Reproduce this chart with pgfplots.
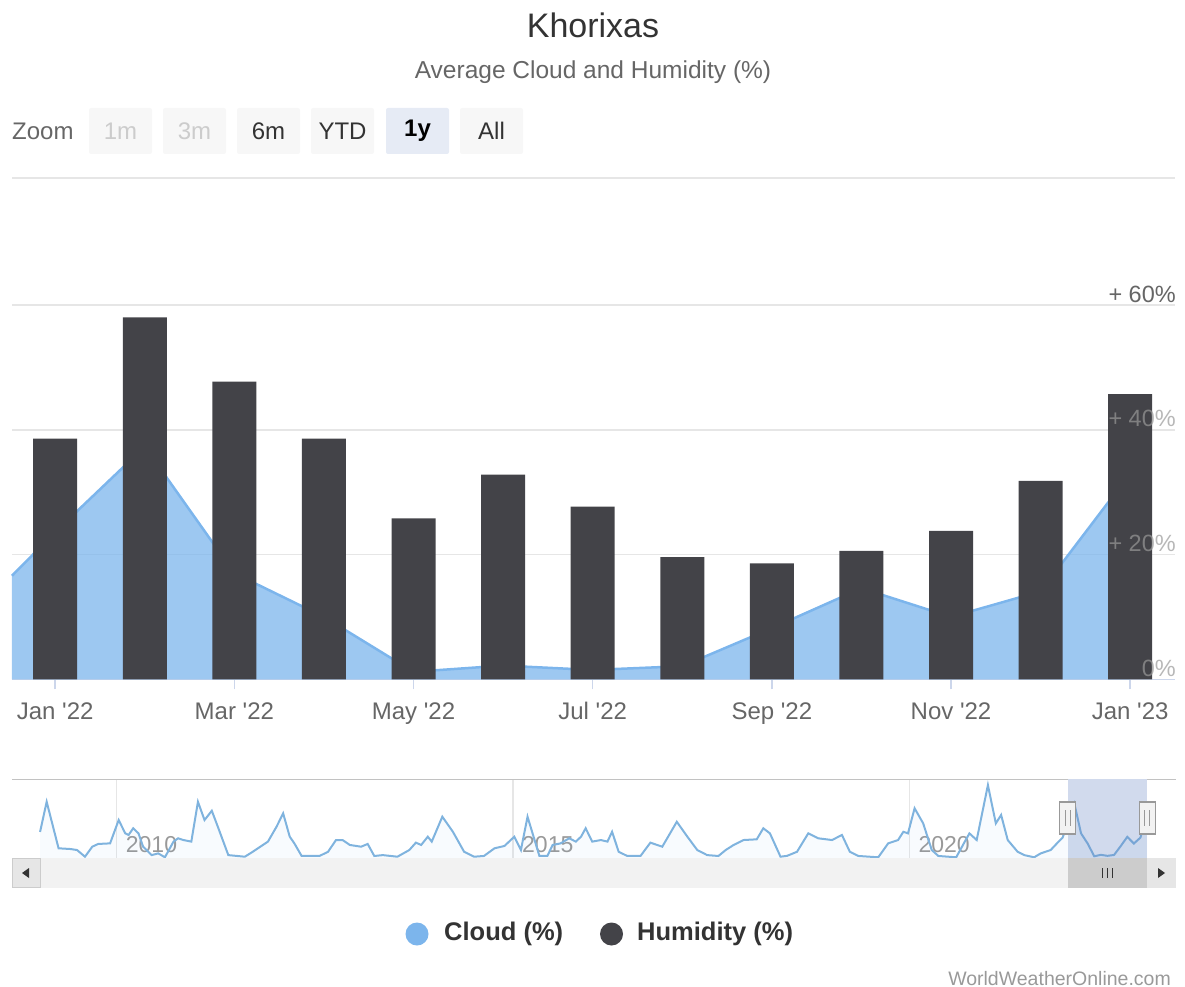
\documentclass[border=0pt]{standalone}
\usepackage{pgfplots}
\pgfplotsset{compat=1.18}
\usepackage{fontspec}
\setmainfont{Liberation Sans}
\definecolor{barcol}{HTML}{434348}
\definecolor{cloud}{HTML}{7CB5EC}
\definecolor{navline}{HTML}{7FB3DE}
\definecolor{gridc}{HTML}{E6E6E6}
\definecolor{axisc}{HTML}{CCD6EB}
\definecolor{txt}{HTML}{333333}
\definecolor{lab}{HTML}{666666}
\definecolor{light}{HTML}{999999}
\definecolor{maskc}{RGB}{102,133,194}
\definecolor{btn}{HTML}{F7F7F7}
\definecolor{btnsel}{HTML}{E6EBF5}
\definecolor{disab}{HTML}{CCCCCC}
\definecolor{sbtrack}{HTML}{F2F2F2}
\definecolor{sbbtn}{HTML}{E6E6E6}
\definecolor{sbthumb}{HTML}{CCCCCC}
\definecolor{outl}{HTML}{C2C2C2}

\begin{document}
\begin{tikzpicture}
\useasboundingbox (0pt,0pt) rectangle (1185pt,-987pt);

% ---------- header ----------
\begin{scope}[x=1pt,y=-1pt]
\node[font=\fontsize{34}{40}\selectfont, text=txt] at (593,25) {Khorixas};
\node[font=\fontsize{24.5}{29}\selectfont, text=lab] at (593,72) {Average Cloud and Humidity (\%)};
\node[anchor=west, inner sep=0pt, font=\fontsize{24}{28}\selectfont, text=lab] at (12,131) {Zoom};
\fill[btn, rounded corners=2pt] (89,108) rectangle (152,154);
\fill[btn, rounded corners=2pt] (163,108) rectangle (226,154);
\fill[btn, rounded corners=2pt] (237,108) rectangle (300,154);
\fill[btn, rounded corners=2pt] (311,108) rectangle (374,154);
\fill[btnsel, rounded corners=2pt] (386,108) rectangle (449,154);
\fill[btn, rounded corners=2pt] (460,108) rectangle (523,154);
\node[font=\fontsize{24}{28}\selectfont, text=disab] at (120.5,131) {1m};
\node[font=\fontsize{24}{28}\selectfont, text=disab] at (194.5,131) {3m};
\node[font=\fontsize{24}{28}\selectfont, text=txt] at (268.5,131) {6m};
\node[font=\fontsize{24}{28}\selectfont, text=txt] at (342.5,131) {YTD};
\node[font=\bfseries\fontsize{24}{28}\selectfont, text=black] at (417.5,131) {1y};
\node[font=\fontsize{24}{28}\selectfont, text=txt] at (491.5,131) {All};
\draw[gridc, line width=1.5pt] (12,178) -- (1175,178);
\end{scope}

% ---------- main chart ----------
\begin{axis}[
  at={(12pt,-679.3pt)}, anchor=south west,
  scale only axis, width=1163pt, height=374.3pt,
  xmin=-0.482, xmax=12.5, ymin=0, ymax=60,
  axis x line*=bottom, axis y line*=right,
  x axis line style={draw=axisc, line width=1.5pt, -},
  y axis line style={draw=none},
  xtick={0,2,4,6,8,10,12},
  xticklabels={Jan \textquotesingle22, Mar \textquotesingle22, May \textquotesingle22, Jul \textquotesingle22, Sep \textquotesingle22, Nov \textquotesingle22, Jan \textquotesingle23},
  xtick align=outside, major tick length=10pt,
  xtick style={draw=axisc, line width=1.5pt},
  xticklabel style={font=\fontsize{24}{28}\selectfont, text=lab, anchor=north, text height=18pt, text depth=5pt, yshift=-9pt},
  ytick={0,20,40}, yticklabels={},
  extra y ticks={60}, extra y tick labels={+ 60\%},
  ytick style={draw=none},
  ymajorgrids, grid style={draw=gridc, line width=1.5pt},
  yticklabel style={font=\fontsize{23.5}{28}\selectfont, text=lab, anchor=base east, inner sep=0pt, xshift=1pt, yshift=3pt},
  extra y tick style={grid=major},
  clip=false,
]
% Cloud (%)
\addplot[draw=none, fill=cloud, fill opacity=0.75] coordinates {
 (-0.482,16.6) (0,23.6) (1,37.3) (2,17.0) (3,10.0) (4,1.2) (5,2.2) (6,1.5)
 (7,2.1) (8,8.2) (9,14.6) (10,10.0) (11,14.1) (12,33.0)} \closedcycle;
\addplot[draw=cloud, line width=2.5pt] coordinates {
 (-0.482,16.6) (0,23.6) (1,37.3) (2,17.0) (3,10.0) (4,1.2) (5,2.2) (6,1.5)
 (7,2.1) (8,8.2) (9,14.6) (10,10.0) (11,14.1) (12,33.0)};
% Humidity (%)
\addplot[ybar, bar width=44pt, fill=barcol, draw=none] coordinates {
 (0,38.6) (1,58.0) (2,47.7) (3,38.6) (4,25.8) (5,32.8) (6,27.7)
 (7,19.6) (8,18.6) (9,20.6) (10,23.8) (11,31.8) (12,45.7)};
\node[anchor=base east, inner sep=0pt, font=\fontsize{23.5}{28}\selectfont, text=light, text opacity=0.7] at (rel axis cs:1,0) [xshift=1pt, yshift=3pt] {0\%};
\node[anchor=base east, inner sep=0pt, font=\fontsize{23.5}{28}\selectfont, text=light, text opacity=0.7] at (rel axis cs:1,0.33333) [xshift=1pt, yshift=3pt] {+ 20\%};
\node[anchor=base east, inner sep=0pt, font=\fontsize{23.5}{28}\selectfont, text=light, text opacity=0.7] at (rel axis cs:1,0.66667) [xshift=1pt, yshift=3pt] {+ 40\%};
\end{axis}

% ---------- navigator ----------
\begin{axis}[
  at={(12pt,-858pt)}, anchor=south west,
  scale only axis, width=1164pt, height=79pt,
  xmin=-3.85, xmax=172.38, ymin=0, ymax=54.5,
  axis line style={draw=none},
  xtick={12,72,132}, xticklabels={},
  ytick=\empty,
  tick style={draw=none},
  xmajorgrids, grid style={draw=gridc, line width=1.5pt},
  clip=true,
]
\node[anchor=base west, inner sep=0pt, font=\fontsize{23}{27}\selectfont, text=light] at (axis cs:12,0) [xshift=9pt, yshift=6pt] {2010};
\node[anchor=base west, inner sep=0pt, font=\fontsize{23}{27}\selectfont, text=light] at (axis cs:72,0) [xshift=9pt, yshift=6pt] {2015};
\node[anchor=base west, inner sep=0pt, font=\fontsize{23}{27}\selectfont, text=light] at (axis cs:132,0) [xshift=9pt, yshift=6pt] {2020};
\addplot[draw=none, fill=cloud, fill opacity=0.05] coordinates {
(0.4,18) (1.4,38.8) (3.2,6.7) (5,6.2) (6,5.5) (7.2,0.9) (8.3,7.8) (9.2,9.7) (11,10.1)
(12.3,26.2) (13.3,17) (13.8,15.9) (14.5,20.5) (15.3,17) (16,7.8) (17.3,2) (18.3,3.2)
(19.3,0.5) (20.6,11.3) (21.3,13.6) (22.1,12.4) (23.3,11.3) (24.3,38.8) (25.3,26.2)
(26.4,32.6) (27.4,20.5) (28.9,2) (31.4,0.9) (32.6,4.3) (34.9,11.3) (36.2,21.6)
(37.2,30.8) (38.2,14.7) (38.9,10.1) (40,1.4) (42.7,1.4) (44,4.3) (45.2,12.4)
(46.2,12.4) (47.3,9) (49,7.8) (50,9.7) (51,1.4) (52.3,2) (54.5,0.9) (56.3,5.5)
(57.3,10.6) (58.1,9) (59.1,14.7) (59.7,11.3) (61.3,28.5) (62.9,18.1) (64.6,4.3)
(66.1,0.9) (67.6,1.4) (69.2,6.7) (70.7,8.3) (72.2,14.7) (73.2,5.5) (74.2,28.5)
(76,1.4) (77.2,1.4) (78,9) (79.2,10.1) (80.5,13.6) (81.5,11.3) (82.3,14.7) (83,20.5)
(84,11.3) (85.3,12.4) (86.3,11.3) (87,18.1) (88,4.3) (89.3,1.4) (91.3,1.4)
(92.8,10.6) (94.6,7.8) (96.8,25) (98.4,14.7) (99.9,5.5) (101.4,2) (103.1,1.4)
(104.2,5.5) (105.4,9) (106.9,12.4) (108.9,12.9) (109.9,20.5) (110.9,17) (112.5,0.9)
(113.5,1.5) (115,4.3) (116.7,17) (118.2,13.6) (120.3,12.4) (121.8,15.9) (123,4.3)
(124.3,1.4) (127.3,0.5) (128.8,10.1) (130.3,12.4) (131.1,18.1) (131.8,17)
(132.8,34.3) (134.1,23.9) (135.4,5.5) (136.4,1.4) (139.1,0.5) (140.4,11.3)
(141.1,17) (142.2,12.4) (143.9,50.3) (145.1,23.9) (145.9,29.7) (146.9,12.4)
(148.4,4.3) (149.4,2) (150.9,0.5) (151.9,3.2) (153.4,5.5) (154.6,11.3) (155.2,14)
(156,23.6) (157,37.3) (158,17.0) (159,10.0) (160,1.2) (161,2.2) (162,1.5)
(163,2.1) (164,8.2) (165,14.6) (166,10.0) (167,14.1) (168,33.0)} \closedcycle;
\addplot[draw=navline, line width=2pt] coordinates {
(0.4,18) (1.4,38.8) (3.2,6.7) (5,6.2) (6,5.5) (7.2,0.9) (8.3,7.8) (9.2,9.7) (11,10.1)
(12.3,26.2) (13.3,17) (13.8,15.9) (14.5,20.5) (15.3,17) (16,7.8) (17.3,2) (18.3,3.2)
(19.3,0.5) (20.6,11.3) (21.3,13.6) (22.1,12.4) (23.3,11.3) (24.3,38.8) (25.3,26.2)
(26.4,32.6) (27.4,20.5) (28.9,2) (31.4,0.9) (32.6,4.3) (34.9,11.3) (36.2,21.6)
(37.2,30.8) (38.2,14.7) (38.9,10.1) (40,1.4) (42.7,1.4) (44,4.3) (45.2,12.4)
(46.2,12.4) (47.3,9) (49,7.8) (50,9.7) (51,1.4) (52.3,2) (54.5,0.9) (56.3,5.5)
(57.3,10.6) (58.1,9) (59.1,14.7) (59.7,11.3) (61.3,28.5) (62.9,18.1) (64.6,4.3)
(66.1,0.9) (67.6,1.4) (69.2,6.7) (70.7,8.3) (72.2,14.7) (73.2,5.5) (74.2,28.5)
(76,1.4) (77.2,1.4) (78,9) (79.2,10.1) (80.5,13.6) (81.5,11.3) (82.3,14.7) (83,20.5)
(84,11.3) (85.3,12.4) (86.3,11.3) (87,18.1) (88,4.3) (89.3,1.4) (91.3,1.4)
(92.8,10.6) (94.6,7.8) (96.8,25) (98.4,14.7) (99.9,5.5) (101.4,2) (103.1,1.4)
(104.2,5.5) (105.4,9) (106.9,12.4) (108.9,12.9) (109.9,20.5) (110.9,17) (112.5,0.9)
(113.5,1.5) (115,4.3) (116.7,17) (118.2,13.6) (120.3,12.4) (121.8,15.9) (123,4.3)
(124.3,1.4) (127.3,0.5) (128.8,10.1) (130.3,12.4) (131.1,18.1) (131.8,17)
(132.8,34.3) (134.1,23.9) (135.4,5.5) (136.4,1.4) (139.1,0.5) (140.4,11.3)
(141.1,17) (142.2,12.4) (143.9,50.3) (145.1,23.9) (145.9,29.7) (146.9,12.4)
(148.4,4.3) (149.4,2) (150.9,0.5) (151.9,3.2) (153.4,5.5) (154.6,11.3) (155.2,14)
(156,23.6) (157,37.3) (158,17.0) (159,10.0) (160,1.2) (161,2.2) (162,1.5)
(163,2.1) (164,8.2) (165,14.6) (166,10.0) (167,14.1) (168,33.0)};
\fill[maskc, fill opacity=0.3] (axis cs:156,0) rectangle (axis cs:168,54.5);
\end{axis}

% ---------- navigator decorations, scrollbar, legend ----------
\begin{scope}[x=1pt,y=-1pt]
\draw[outl, line width=1.5pt] (12,779.5) -- (1067.8,779.5);
\draw[outl, line width=1.5pt] (1147.1,779.5) -- (1176,779.5);
% handles
\foreach \hx in {1067.8,1147.1}{
  \filldraw[fill=sbtrack, draw=light, line width=1.2pt] (\hx-8,802) rectangle (\hx+8,834);
  \draw[light, line width=1.2pt] (\hx-2.5,810) -- (\hx-2.5,826);
  \draw[light, line width=1.2pt] (\hx+2.5,810) -- (\hx+2.5,826);
}
% scrollbar
\fill[sbtrack] (12,858) rectangle (1176,888);
\filldraw[fill=sbbtn, draw=disab, line width=1pt] (12.5,858.5) rectangle (40,887.5);
\fill[txt] (22,873) -- (29,868) -- (29,878) -- cycle;
\fill[sbthumb] (1067.8,858) rectangle (1147.1,888);
\draw[txt, line width=1.3pt] (1102.5,868) -- (1102.5,878);
\draw[txt, line width=1.3pt] (1107.5,868) -- (1107.5,878);
\draw[txt, line width=1.3pt] (1112.5,868) -- (1112.5,878);
\filldraw[fill=sbbtn, draw=sbbtn, line width=1pt] (1147.1,858.5) rectangle (1175.5,887.5);
\fill[txt] (1165,873) -- (1158,868) -- (1158,878) -- cycle;
% legend
\fill[cloud] (417,934) circle (11.5);
\node[anchor=west, inner sep=0pt, font=\bfseries\fontsize{25.5}{30}\selectfont, text=txt] at (444,934) {Cloud (\%)};
\fill[barcol] (611.5,934) circle (11.5);
\node[anchor=west, inner sep=0pt, font=\bfseries\fontsize{25.5}{30}\selectfont, text=txt] at (637,934) {Humidity (\%)};
% credits
\node[anchor=base east, inner sep=0pt, font=\fontsize{19.5}{23}\selectfont, text=light] at (1171,985) {WorldWeatherOnline.com};
\end{scope}
\end{tikzpicture}
\end{document}
